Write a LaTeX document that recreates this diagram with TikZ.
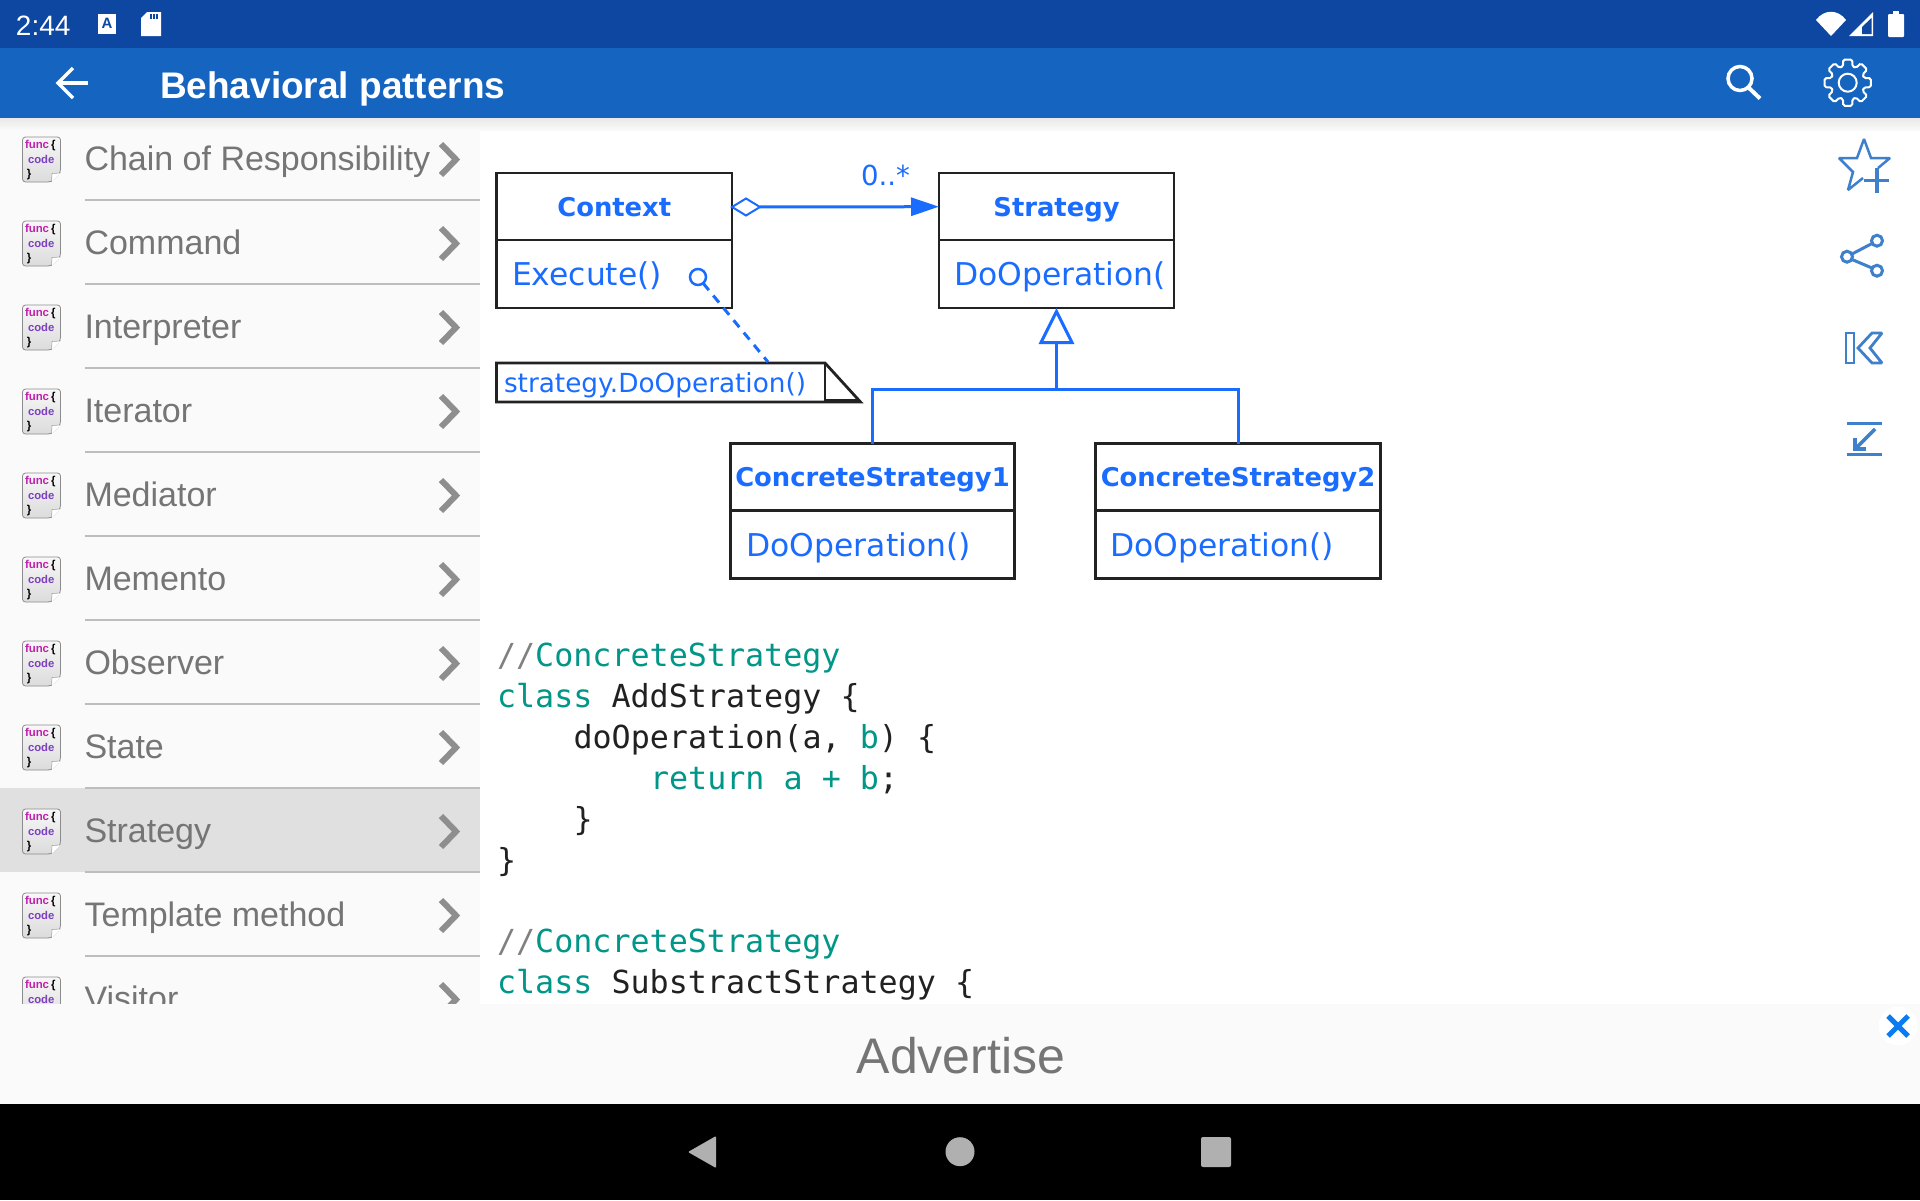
\documentclass[tikz,border=0pt]{standalone}
\usepackage{fontspec}
\usetikzlibrary{positioning, arrows.meta, shapes.geometric}
\setmainfont{Liberation Sans}
\newfontfamily\umlfont{DejaVu Sans}
\newfontfamily\codefont{DejaVu Sans Mono}
\definecolor{statusblue}{HTML}{0D47A1}
\definecolor{barblue}{HTML}{1565C0}
\definecolor{listbg}{HTML}{FAFAFA}
\definecolor{rowsel}{HTML}{E0E0E0}
\definecolor{rowline}{HTML}{BDBDBD}
\definecolor{rowtext}{HTML}{757575}
\definecolor{chevgrey}{HTML}{8E8E8E}
\definecolor{umlblue}{HTML}{1A6CFF}
\definecolor{umlblack}{HTML}{222222}
\definecolor{iconblue}{HTML}{3F80CC}
\definecolor{codeteal}{HTML}{009688}
\definecolor{codeblack}{HTML}{212121}
\definecolor{codegrey}{HTML}{808080}
\definecolor{funcpink}{HTML}{C020B0}
\definecolor{funcpurple}{HTML}{7B3FC0}
\definecolor{closeblue}{HTML}{0A7BF0}
\definecolor{navgrey}{HTML}{B0B0B0}

\begin{document}
\begin{tikzpicture}
    [
        x=1pt, y=-1pt, inner sep=0pt, outer sep=0pt,
        node distance=0pt,
        class_title/.style={rectangle, draw=umlblack, fill=white, line width=2.8pt, minimum height=67pt, text height=19pt, text depth=0pt, font=\umlfont\bfseries\fontsize{25.8}{30}\selectfont, text=umlblue},
        class_body/.style={rectangle, draw=umlblack, fill=white, line width=2.8pt, minimum height=68pt},
        class_op/.style={anchor=base west, text=umlblue, font=\umlfont\fontsize{31.4}{36}\selectfont},
        uml_line/.style={draw=umlblue, line width=3pt},
        row_label/.style={anchor=base west, font=\fontsize{34}{40}\selectfont, text=rowtext},
        code_line/.style={anchor=base west, font=\codefont\fontsize{31.7}{40}\selectfont, text=codeblack},
        icon_line/.style={draw=iconblue, line width=3pt},
        status_icon/.style={fill=white, draw=none},
    ]
        % screen areas
        \path[use as bounding box] (0,0) rectangle (1920,1200);
        \fill[white] (0,0) rectangle (1920,1200);
        \fill[listbg] (0,118) rectangle (480,1005);
        \fill[rowsel] (0,788) rectangle (480,872);
        \shade[top color=black!9, bottom color=listbg] (0,118) rectangle (1920,130);
        \fill[statusblue] (0,0) rectangle (1920,48);
        \fill[barblue] (0,48) rectangle (1920,118);

        % status bar
        \node[anchor=base west, text=white, font=\fontsize{28}{32}\selectfont] (clock) at (16,35) {2:44};
        \fill[status_icon] (98,14) rectangle (116,34);
        \node[text=statusblue, font=\bfseries\fontsize{15}{16}\selectfont] (a_icon) at (107,23) {A};
        \fill[status_icon] (147,12) -- (161,12) -- (161,36) -- (141,36) -- (141,18) -- cycle;
        \foreach \x in {150,153,156} { \fill[statusblue] (\x,14) rectangle ++(2,5); }
        \fill[status_icon] (1831,36) -- (1816,20) .. controls (1824,9) and (1838,9) .. (1846,20) -- cycle;
        \fill[status_icon] (1849,36) -- (1873,12) -- (1873,36) -- cycle;
        \fill[statusblue] (1862,34) -- (1871.5,34) -- (1871.5,18) -- (1862,27) -- cycle;
        \fill[status_icon, rounded corners=1pt] (1888,14) rectangle (1904,37);
        \fill[status_icon] (1893,11) rectangle (1899,15);

        % app bar
        \coordinate (back_tip) at (58,83);
        \draw[white, line width=3.5pt] (back_tip) -- (88,83);
        \draw[white, line width=3.5pt] (73,68) -- (back_tip) -- (73,98);
        \node[anchor=base west, text=white, font=\bfseries\fontsize{37}{44}\selectfont] (title) at (160,98) {Behavioral patterns};
        \draw[white, line width=3.5pt] (1740,78.5) circle (12);
        \draw[white, line width=4pt] (1749,88) -- (1760,98.5);
        \coordinate (gear_c) at (1847.7,82.7);
        \draw[white, line width=2pt] (gear_c) circle (9);
        \draw[white, line width=2pt, rounded corners=1.5pt]
            ([shift={(-11:23.5pt)}]gear_c)
            \foreach \a in {0,45,...,315} {
                -- ([shift={(\a-11:23.5pt)}]gear_c) -- ([shift={(\a+11:23.5pt)}]gear_c)
                -- ([shift={(\a+16:17pt)}]gear_c) -- ([shift={(\a+29:17pt)}]gear_c)
            } -- cycle;

        % list rows
        \foreach \k/\name in {0/Chain of Responsibility, 1/Command, 2/Interpreter, 3/Iterator, 4/Mediator, 5/Memento, 6/Observer, 7/State, 8/Strategy, 9/Template method, 10/Visitor} {
            \pgfmathsetmacro{\rowy}{159.5+84*\k}
            \begin{scope}[shift={(0,\rowy)}]
                \draw[draw=black!45, line width=0.8pt, top color=black!3, bottom color=black!14, rounded corners=3pt]
                    (22.5,-22.5) -- (60.5,-22.5) -- (60.5,13) -- (51,22.5) -- (22.5,22.5) -- cycle;
                \fill[white] (60.5,13.5) -- (51.5,22.5) -- (52,14) -- cycle;
                \draw[draw=black!35, line width=0.6pt] (60.5,13.5) -- (52,14) -- (51.5,22.5);
                \node[anchor=base west, text=funcpink, font=\bfseries\fontsize{11.4}{12}\selectfont] at (25,-11.5) {func};
                \node[anchor=base west, font=\bfseries\fontsize{11.4}{12}\selectfont] at (51,-11.5) {\{};
                \node[anchor=base west, text=funcpurple, font=\bfseries\fontsize{11.3}{12}\selectfont] at (28,3.5) {code};
                \node[anchor=base west, font=\bfseries\fontsize{11.4}{12}\selectfont] at (27,18) {\}};
                \draw[chevgrey, line width=6pt] (441,-15.5) -- (456,0) -- (441,15.5);
                \node[row_label] at (84.5,11) {\name};
                \draw[rowline, line width=2pt] (85,40.5) -- (480,40.5);
            \end{scope}
        }

        % uml classes
        \node[class_title, minimum width=235.5pt] (context) at (614.25,206.5) {Context};
        \node[class_body, minimum width=235.5pt, below=of context] (context_body) {};
        \node[class_op] (execute) at (512,285.5) {Execute()};
        \node[class_title, minimum width=235pt] (strategy) at (1056.5,206.5) {Strategy};
        \node[class_body, minimum width=235pt, below=of strategy] (strategy_body) {};
        \node[class_op] (strategy_op) at (954,285.5) {DoOperation(};
        \node[class_title, minimum width=284.5pt] (concrete1) at (872.5,477) {ConcreteStrategy1};
        \node[class_body, minimum width=284.5pt, below=of concrete1] (concrete1_body) {};
        \node[class_op] (concrete1_op) at (746.5,556.5) {DoOperation()};
        \node[class_title, minimum width=285.5pt] (concrete2) at (1238,477) {ConcreteStrategy2};
        \node[class_body, minimum width=285.5pt, below=of concrete2] (concrete2_body) {};
        \node[class_op] (concrete2_op) at (1110,556.5) {DoOperation()};

        % note
        \coordinate (note_a) at (496.5,363);
        \coordinate (note_b) at (825,363);
        \coordinate (note_c) at (860.5,402);
        \coordinate (note_d) at (496.5,402);
        \draw[umlblack, line width=2.8pt, fill=white] (note_a) -- (note_b) -- (note_c) -- (note_d) -- cycle;
        \draw[umlblack, line width=2pt] (note_b) -- (825,402);
        \draw[umlblack, line width=4.5pt] (825,401) -- (860,401);
        \node[anchor=base west, text=umlblue, font=\umlfont\fontsize{26.3}{30}\selectfont] (note) at (504,392) {strategy.DoOperation()};
        \node[circle, draw=umlblue, line width=2.5pt, minimum size=16pt] (anchor_c) at (698,277) {};
        \coordinate (note_top) at (768,362);
        \draw[uml_line, dash pattern=on 9pt off 7pt] (anchor_c) -- (note_top);

        % connectors
        \node[diamond, draw=umlblue, fill=white, line width=2pt, minimum width=28pt, minimum height=17pt] (hold) at (746,207) {};
        \draw[uml_line, -{Triangle[length=28pt, width=18pt]}] (hold) -- (strategy);
        \node[anchor=base west, text=umlblue, font=\umlfont\fontsize{27.6}{30}\selectfont] (multi) at (861,185) {0..*};
        \coordinate (fork) at (1056.5,389);
        \draw[uml_line] (concrete1.north) |- (fork);
        \draw[uml_line] (concrete2.north) |- (fork);
        \draw[uml_line, -{Triangle[open, fill=white, length=36pt, width=35pt]}] (fork) -- (strategy_body.south);

        % side icons
        \draw[icon_line, line width=2.5pt, miter limit=2] (1863,178) -- (1848,190) -- (1853,172) -- (1839,158) -- (1857,158) -- (1864,139) -- (1871,158) -- (1890,158) -- (1878,168);
        \draw[icon_line, line width=3.5pt] (1864,180.5) -- (1889,180.5);
        \draw[icon_line, line width=3.5pt] (1877,168) -- (1877,193);
        \draw[icon_line] (1877,240.7) circle (5.5);
        \draw[icon_line] (1847,256.7) circle (5.5);
        \draw[icon_line] (1877,270.7) circle (5.5);
        \draw[icon_line] (1852,254) -- (1872,243.5);
        \draw[icon_line] (1852,259.5) -- (1872,268);
        \draw[icon_line, line width=2.8pt] (1846,333) rectangle (1854,363);
        \draw[icon_line, line width=2.8pt, miter limit=2] (1872,333) -- (1882,333) -- (1870,348) -- (1882,363) -- (1872,363) -- (1858,348) -- cycle;
        \draw[icon_line, line width=3.5pt] (1847,423.7) -- (1882,423.7);
        \draw[icon_line, line width=3.5pt] (1847,454.7) -- (1882,454.7);
        \draw[icon_line, line width=3.5pt] (1875,429) -- (1855,449);
        \draw[icon_line, line width=3.5pt] (1855,438) -- (1855,449) -- (1866,449);

        % code
        \node[code_line] (c1) at (497,666) {\textcolor{codegrey}{//}\textcolor{codeteal}{ConcreteStrategy}};
        \node[code_line] (c2) at (497,707) {\textcolor{codeteal}{class} AddStrategy \{};
        \node[code_line] (c3) at (573.5,748) {doOperation(a, \textcolor{codeteal}{b}) \{};
        \node[code_line] (c4) at (650,789) {\textcolor{codeteal}{return a + b}\textcolor{codeblack}{;}};
        \node[code_line] (c5) at (573.5,830) {\}};
        \node[code_line] (c6) at (497,871) {\}};
        \node[code_line] (c7) at (497,952) {\textcolor{codegrey}{//}\textcolor{codeteal}{ConcreteStrategy}};
        \node[code_line] (c8) at (497,993) {\textcolor{codeteal}{class} SubstractStrategy \{};

        % advert and navigation
        \fill[listbg] (0,1004) rectangle (1920,1104);
        \node[anchor=base, text=rowtext, font=\fontsize{50}{56}\selectfont] (advert) at (961,1073) {Advertise};
        \fill[white] (1898,1026) circle (19.5);
        \draw[closeblue, line width=5pt] (1888,1016) -- (1908,1036);
        \draw[closeblue, line width=5pt] (1908,1016) -- (1888,1036);
        \fill[black] (0,1104) rectangle (1920,1200);
        \fill[navgrey, rounded corners=1pt] (716,1136) -- (716,1168) -- (688,1152) -- cycle;
        \fill[navgrey] (960,1151.7) circle (14.5);
        \fill[navgrey, rounded corners=2pt] (1201,1137) rectangle (1231,1167);
    \end{tikzpicture}
\end{document}
